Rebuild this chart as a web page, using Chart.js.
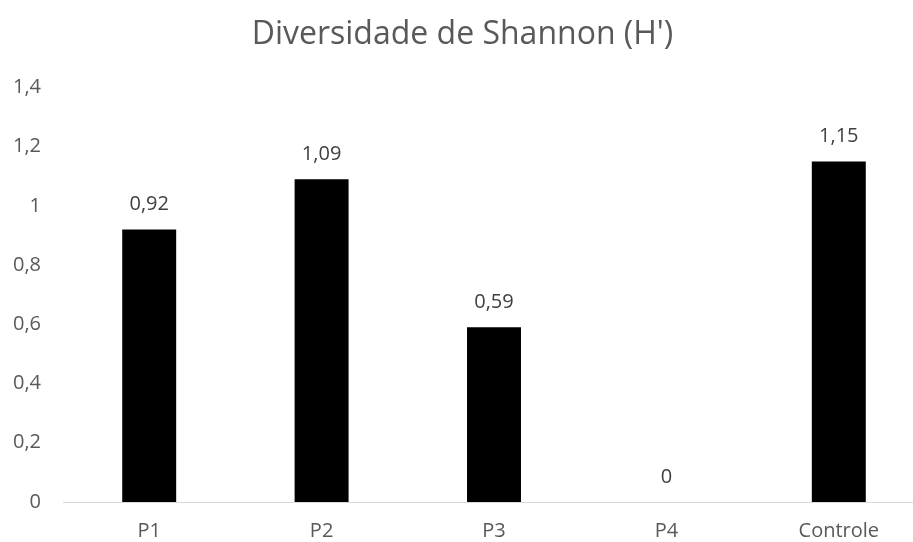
<!DOCTYPE html>
<html>
<head>
<meta charset="utf-8">
<script src="https://cdn.jsdelivr.net/npm/chart.js@4"></script>
<style>
  html, body { margin: 0; padding: 0; background: #fff; overflow: hidden; }
  #wrap { width: 930px; height: 542px; }
</style>
</head>
<body>
<div id="wrap"><canvas id="grafico"></canvas></div>
<script>
// dados do gráfico
const categorias = ["P1", "P2", "P3", "P4", "Controle"];
const valores = [0.92, 1.09, 0.59, 0, 1.15];
const ticksY = [0, 0.2, 0.4, 0.6, 0.8, 1, 1.2, 1.4];

const fmt = v => String(v).replace(".", ",");
const fonte = "'Open Sans', sans-serif";
const cinza = "#595959";

// rótulos de valor acima das barras
const rotulos = {
  id: "rotulos",
  afterDatasetsDraw(chart) {
    const ctx = chart.ctx;
    const meta = chart.getDatasetMeta(0);
    ctx.save();
    ctx.font = "20px " + fonte;
    ctx.fillStyle = "#404040";
    ctx.textAlign = "center";
    ctx.textBaseline = "middle";
    meta.data.forEach((bar, i) => {
      ctx.fillText(fmt(valores[i]), bar.x, bar.y - 25);
    });
    ctx.restore();
  }
};

new Chart(document.getElementById("grafico"), {
  type: "bar",
  data: {
    labels: categorias,
    datasets: [{
      data: valores,
      backgroundColor: "#000000",
      barPercentage: 1,
      categoryPercentage: 0.313
    }]
  },
  options: {
    responsive: true,
    maintainAspectRatio: false,
    animation: false,
    layout: { padding: { left: 0, right: 5, top: 0, bottom: 0 } },
    plugins: {
      legend: { display: false },
      tooltip: { enabled: false },
      title: {
        display: true,
        text: "Diversidade de Shannon (H')",
        color: cinza,
        font: { family: fonte, size: 32, weight: "normal" },
        padding: { top: 16, bottom: 33 }
      }
    },
    scales: {
      x: {
        grid: { display: false, drawTicks: false },
        border: { display: true, color: "#d9d9d9", width: 1 },
        ticks: { color: cinza, font: { family: fonte, size: 20 }, padding: 17 },
        afterFit: s => { s.height = 40; }
      },
      y: {
        min: 0,
        max: 1.4,
        grid: { display: false, drawTicks: false },
        border: { display: false },
        afterBuildTicks: s => { s.ticks = ticksY.map(v => ({ value: v })); },
        ticks: {
          color: cinza,
          font: { family: fonte, size: 20 },
          padding: 22,
          callback: v => fmt(v)
        },
        afterFit: s => { s.width = 63; }
      }
    }
  },
  plugins: [rotulos]
});
</script>
</body>
</html>
